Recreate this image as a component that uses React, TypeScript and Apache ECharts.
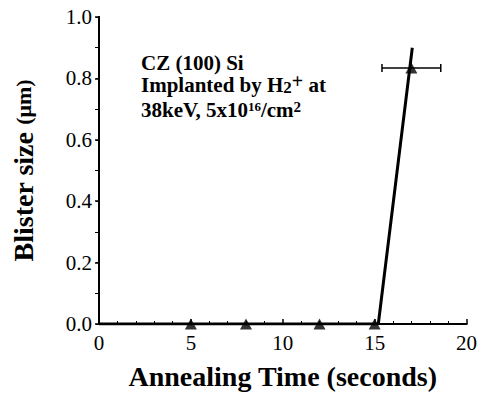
import React, { useEffect, useRef } from "react";
import * as echarts from "echarts";

const times = [5, 8, 12, 15, 17];
const sizes = [0, 0, 0, 0, 0.834];
const timeErr = [0, 0, 0, 0, 1.6];
const fitLine: [number, number][] = [[0, 0], [15.2, 0], [17.05, 0.9]];
const xTicks = [0, 5, 10, 15, 20];
const yTicks = [0, 0.2, 0.4, 0.6, 0.8, 1.0];
const noteLines = [
  "{b|CZ (100) Si}",
  "{b|Implanted by H}{sub|2}{sup|+}{b| at}",
  "{b|38keV, 5x10}{sm|16}{b|/cm}{sm2|2}",
];

const SERIF = "'Liberation Serif', 'Times New Roman', 'DejaVu Serif', serif";

export default function App() {
  const ref = useRef<HTMLDivElement>(null);
  useEffect(() => {
    const chart = echarts.init(ref.current!, undefined, { renderer: "svg" });
    const points = times.map((t, i) => [t, sizes[i]]);
    const errData = times
      .map((t, i) => [t, sizes[i], timeErr[i]])
      .filter((d) => d[2] > 0);
    const noteTops = [52, 71, 99];
    const rich = {
      b: { fontFamily: SERIF, fontWeight: "bold", fontSize: 21, fill: "#000", lineHeight: 19 },
      sub: { fontFamily: SERIF, fontWeight: "bold", fontSize: 17, fill: "#000", padding: [5, 0, 0, 0], lineHeight: 19 },
      sup: { fontFamily: SERIF, fontWeight: "bold", fontSize: 20, fill: "#000", padding: [0, 0, 8, 0], lineHeight: 19 },
      sm: { fontFamily: SERIF, fontWeight: "bold", fontSize: 13, fill: "#000", padding: [0, 0, 6, 0], lineHeight: 19 },
      sm2: { fontFamily: SERIF, fontWeight: "bold", fontSize: 15, fill: "#000", padding: [0, 0, 6, 0], lineHeight: 19 },
    };
    chart.setOption({
      animation: false,
      backgroundColor: "#fff",
      textStyle: { fontFamily: SERIF },
      grid: { left: 99, right: 9, top: 17, bottom: 72 },
      xAxis: [
        {
          type: "value",
          min: xTicks[0],
          max: xTicks[xTicks.length - 1],
          interval: 5,
          axisLine: { lineStyle: { color: "#000", width: 2 } },
          axisTick: { inside: true, length: 5, lineStyle: { color: "#000", width: 1.5 } },
          minorTick: { show: true, splitNumber: 5, length: 3, lineStyle: { color: "#000" } },
          splitLine: { show: false },
          axisLabel: { color: "#000", fontFamily: SERIF, fontSize: 21, margin: 8 },
          name: "Annealing Time (seconds)",
          nameLocation: "middle",
          nameGap: 38,
          nameTextStyle: { color: "#000", fontFamily: SERIF, fontSize: 28, fontWeight: "bold" },
        },
        {
          type: "value",
          position: "top",
          min: 0,
          max: 20,
          interval: 5,
          axisLine: { show: true, lineStyle: { color: "#000", width: 2 } },
          axisTick: { show: false },
          axisLabel: { show: false },
          splitLine: { show: false },
        },
      ],
      yAxis: [
        {
          type: "value",
          min: yTicks[0],
          max: yTicks[yTicks.length - 1],
          interval: 0.2,
          axisLine: { lineStyle: { color: "#000", width: 2 } },
          axisTick: { inside: false, length: 4, lineStyle: { color: "#000", width: 1.5 } },
          minorTick: { show: true, splitNumber: 2, length: 4, lineStyle: { color: "#000" } },
          splitLine: { show: false },
          axisLabel: {
            color: "#000",
            fontFamily: SERIF,
            fontSize: 21,
            margin: 7,
            formatter: (v: number) => v.toFixed(1),
          },
          name: "{a|Blister size }{b|(μm)}",
          nameLocation: "middle",
          nameGap: 62,
          nameTextStyle: {
            rich: {
              a: { color: "#000", fontFamily: SERIF, fontSize: 28, fontWeight: "bold" },
              b: { color: "#000", fontFamily: SERIF, fontSize: 22, fontWeight: "bold" },
            },
          },
        },
        {
          type: "value",
          position: "right",
          min: 0,
          max: 1,
          interval: 0.1,
          axisLine: { show: true, lineStyle: { color: "#000", width: 2 } },
          axisTick: { show: true, inside: true, length: 3, lineStyle: { color: "#000" } },
          axisLabel: { show: false },
          splitLine: { show: false },
        },
      ],
      graphic: noteLines.map((t, i) => ({
        type: "text",
        left: 141,
        top: noteTops[i],
        style: {
          text: t,
          fontFamily: SERIF,
          fontWeight: "bold",
          fill: "#000",
          rich,
        },
      })),
      series: [
        {
          type: "line",
          data: fitLine,
          symbol: "none",
          lineStyle: { color: "#000", width: 3 },
          z: 3,
        },
        {
          type: "custom",
          data: errData,
          renderItem: (params: any, api: any) => {
            const x = api.value(0);
            const y = api.value(1);
            const e = api.value(2);
            const p1 = api.coord([x - e, y]);
            const p2 = api.coord([x + e, y]);
            const cap = 4;
            const st = { stroke: "#000", lineWidth: 1.5 };
            return {
              type: "group",
              children: [
                { type: "line", shape: { x1: p1[0], y1: p1[1], x2: p2[0], y2: p2[1] }, style: st },
                { type: "line", shape: { x1: p1[0], y1: p1[1] - cap, x2: p1[0], y2: p1[1] + cap }, style: st },
                { type: "line", shape: { x1: p2[0], y1: p2[1] - cap, x2: p2[0], y2: p2[1] + cap }, style: st },
              ],
            };
          },
          z: 4,
        },
        {
          type: "scatter",
          data: points,
          symbol: "triangle",
          symbolSize: [12, 11],
          itemStyle: { color: "#000" },
          z: 5,
        },
      ],
    });
    return () => chart.dispose();
  }, []);
  return (
    <div
      ref={ref}
      style={{ position: "absolute", left: 0, top: 0, width: 480, height: 396 }}
    />
  );
}
